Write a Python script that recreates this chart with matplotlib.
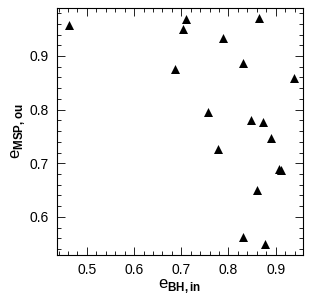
import matplotlib
matplotlib.use("Agg")
import matplotlib.pyplot as plt
from matplotlib.ticker import MultipleLocator

# eccentricities
e_bh_in = [0.461, 0.711, 0.704, 0.789, 0.865, 0.687, 0.831, 0.939, 0.757,
           0.847, 0.873, 0.890, 0.777, 0.907, 0.912, 0.861, 0.831, 0.877]
e_msp_ou = [0.958, 0.968, 0.950, 0.934, 0.970, 0.875, 0.886, 0.858, 0.796,
            0.781, 0.776, 0.748, 0.727, 0.690, 0.688, 0.650, 0.563, 0.549]

plt.rcParams["font.family"] = ["Liberation Sans", "DejaVu Sans"]
plt.rcParams["mathtext.fontset"] = "custom"
plt.rcParams["mathtext.rm"] = "Liberation Sans"
plt.rcParams["mathtext.bf"] = "Liberation Sans:bold"

fig = plt.figure(figsize=(3.10, 2.94), dpi=100)
ax = fig.add_axes([57 / 310, 1 - 255 / 294, 246 / 310, 247 / 294])

ax.scatter(e_bh_in, e_msp_ou, marker="^", s=42, color="black", linewidths=0)

ax.set_xlim(0.4366, 0.958)
ax.set_ylim(0.529, 0.9894)
ax.xaxis.set_major_locator(MultipleLocator(0.1))
ax.xaxis.set_minor_locator(MultipleLocator(0.02))
ax.yaxis.set_major_locator(MultipleLocator(0.1))
ax.yaxis.set_minor_locator(MultipleLocator(0.02))
ax.tick_params(which="both", direction="in", top=True, right=True,
               labelsize=10, width=0.7, colors="#222222", labelcolor="black",
               pad=6)
ax.tick_params(which="major", length=6)
ax.tick_params(which="minor", length=3)
for sp in ax.spines.values():
    sp.set_linewidth(0.8)

ax.set_xlabel(r"e$_{\mathbf{BH,in}}$", fontsize=12, labelpad=0)
ax.set_ylabel(r"e$_{\mathbf{MSP,ou}}$", fontsize=12, labelpad=2)

fig.savefig("out.png", dpi=100)
